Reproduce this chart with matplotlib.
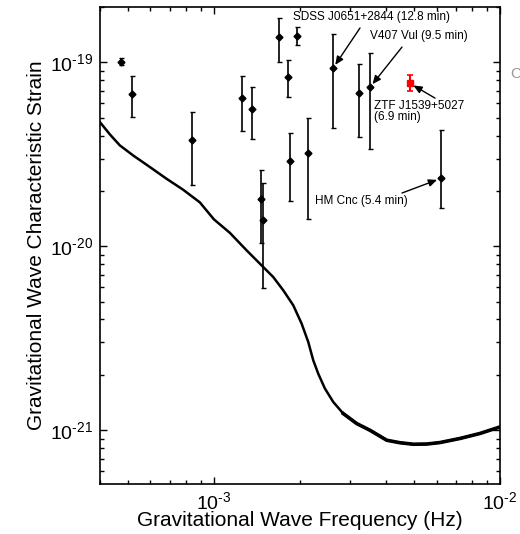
import matplotlib
matplotlib.use("Agg")
import matplotlib.pyplot as plt
from matplotlib.ticker import FuncFormatter
import numpy as np

plt.rcParams['font.family'] = ['Liberation Sans', 'DejaVu Sans']
plt.rcParams['mathtext.fontset'] = 'custom'
plt.rcParams['mathtext.rm'] = 'Liberation Sans'
plt.rcParams['mathtext.it'] = 'Liberation Sans:italic'
plt.rcParams['mathtext.bf'] = 'Liberation Sans:bold'
plt.rcParams['axes.unicode_minus'] = False

# LISA sensitivity curve (characteristic strain vs frequency)
curve_freq = [3.995e-4, 4.33e-4, 4.69e-4, 5.22e-4, 5.97e-4, 6.83e-4, 7.81e-4,
              8.93e-4, 1.0e-3, 1.137e-3, 1.301e-3, 1.487e-3, 1.612e-3,
              1.747e-3, 1.894e-3, 2.026e-3, 2.137e-3, 2.225e-3, 2.316e-3,
              2.444e-3, 2.613e-3, 2.832e-3, 3.155e-3, 3.51e-3, 4.02e-3,
              4.47e-3, 4.98e-3, 5.54e-3, 6.17e-3, 7.25e-3, 8.51e-3, 1.0e-2]
curve_strain = [4.74e-20, 4.06e-20, 3.54e-20, 3.12e-20, 2.70e-20, 2.33e-20,
                2.03e-20, 1.734e-20, 1.402e-20, 1.184e-20, 9.51e-21, 7.72e-21,
                6.81e-21, 5.77e-21, 4.78e-21, 3.80e-21, 3.02e-21, 2.40e-21,
                2.03e-21, 1.685e-21, 1.425e-21, 1.232e-21, 1.087e-21, 1.0e-21,
                8.82e-22, 8.55e-22, 8.39e-22, 8.41e-22, 8.57e-22, 9.02e-22,
                9.60e-22, 1.042e-21]

# Known verification binaries
bin_freq = [4.73e-4, 5.16e-4, 8.38e-4, 1.253e-3, 1.358e-3, 1.46e-3, 1.483e-3,
            1.688e-3, 1.814e-3, 1.951e-3, 1.843e-3, 2.132e-3, 2.607e-3,
            3.214e-3, 3.51e-3, 6.22e-3]
bin_strain = [1.0e-19, 6.73e-20, 3.77e-20, 6.37e-20, 5.55e-20, 1.80e-20,
              1.384e-20, 1.368e-19, 8.29e-20, 1.384e-19, 2.90e-20, 3.20e-20,
              9.28e-20, 6.79e-20, 7.31e-20, 2.34e-20]
bin_lo = [0.963e-19, 5.02e-20, 2.15e-20, 4.22e-20, 3.82e-20, 1.038e-20,
          5.91e-21, 1.01e-19, 6.45e-20, 1.237e-19, 1.757e-20, 1.402e-20,
          4.38e-20, 3.91e-20, 3.37e-20, 1.609e-20]
bin_hi = [1.05e-19, 8.39e-20, 5.35e-20, 8.39e-20, 7.31e-20, 2.59e-20,
          2.20e-20, 1.734e-19, 1.025e-19, 1.55e-19, 4.11e-20, 4.96e-20,
          1.42e-19, 9.75e-20, 1.119e-19, 4.27e-20]

# ZTF J1539+5027
ztf_freq = [4.84e-3]
ztf_strain = [7.69e-20]
ztf_lo = [6.96e-20]
ztf_hi = [8.50e-20]

fig = plt.figure(figsize=(5.2, 5.34), dpi=100)
ax = fig.add_axes([100 / 520, 50 / 534, 400 / 520, 477 / 534])
ax.set_xscale('log')
ax.set_yscale('log')

ax.plot(curve_freq, curve_strain, color='black', lw=1.8,
        solid_joinstyle='round', solid_capstyle='round')
ax.plot(curve_freq[21:], curve_strain[21:], color='black', lw=2.6,
        solid_joinstyle='round')

bs = np.array(bin_strain)
yerr = [bs - np.array(bin_lo), np.array(bin_hi) - bs]
ax.errorbar(bin_freq, bin_strain, yerr=yerr, fmt='D', color='black', ms=3.5,
            ecolor='black', elinewidth=1.2, capsize=1.8, capthick=1.0)

zs = np.array(ztf_strain)
ax.errorbar(ztf_freq, ztf_strain, yerr=[zs - np.array(ztf_lo), np.array(ztf_hi) - zs],
            fmt='s', color='red', ms=5, ecolor='red', elinewidth=1.5,
            capsize=2.5, capthick=1.2)

arrow = dict(arrowstyle='-|>,head_length=0.5,head_width=0.22', color='black',
             lw=1.0, shrinkA=0, shrinkB=3)
fs_ann = 8.5
ax.text(0.4825, 0.979, 'SDSS J0651+2844 (12.8 min)', transform=ax.transAxes,
        ha='left', va='center', fontsize=fs_ann)
ax.annotate('', xy=(bin_freq[12], bin_strain[12]), xytext=(0.65, 0.956),
            textcoords='axes fraction', arrowprops=arrow)
ax.text(0.675, 0.939, 'V407 Vul (9.5 min)', transform=ax.transAxes,
        ha='left', va='center', fontsize=fs_ann)
ax.annotate('', xy=(bin_freq[14], bin_strain[14]), xytext=(0.755, 0.916),
            textcoords='axes fraction', arrowprops=arrow)
ax.text(0.685, 0.781, 'ZTF J1539+5027\n(6.9 min)', transform=ax.transAxes,
        ha='left', va='center', fontsize=fs_ann, linespacing=0.95)
ax.annotate('', xy=(ztf_freq[0], ztf_strain[0]), xytext=(0.8375, 0.809),
            textcoords='axes fraction', arrowprops=arrow)
ax.text(0.5375, 0.593, 'HM Cnc (5.4 min)', transform=ax.transAxes,
        ha='left', va='center', fontsize=fs_ann)
ax.annotate('', xy=(bin_freq[15], bin_strain[15]), xytext=(0.755, 0.610),
            textcoords='axes fraction', arrowprops=arrow)

ax.set_xlim(4e-4, 1e-2)
ax.set_ylim(5.1e-22, 2.0e-19)


def pow10(v, pos):
    e = int(round(np.log10(v)))
    sign = '\u2010' if e < 0 else ''
    return '$\\mathregular{10^{%s%d}}$' % (sign, abs(e))


ax.xaxis.set_major_formatter(FuncFormatter(pow10))
ax.yaxis.set_major_formatter(FuncFormatter(pow10))
ax.tick_params(which='both', direction='in', top=True, right=True, width=1.0)
ax.tick_params(which='major', length=5, labelsize=14, pad=5)
ax.tick_params(which='minor', length=3)
for s in ax.spines.values():
    s.set_linewidth(1.2)

ax.set_xlabel('Gravitational Wave Frequency (Hz)', fontsize=15, labelpad=-1)
ax.set_ylabel('Gravitational Wave Characteristic Strain', fontsize=15, labelpad=3)

fig.text(510 / 520, 1 - 74 / 534, 'C', color='#999999', fontsize=11,
         ha='left', va='center')

fig.savefig('out.png', dpi=100)
